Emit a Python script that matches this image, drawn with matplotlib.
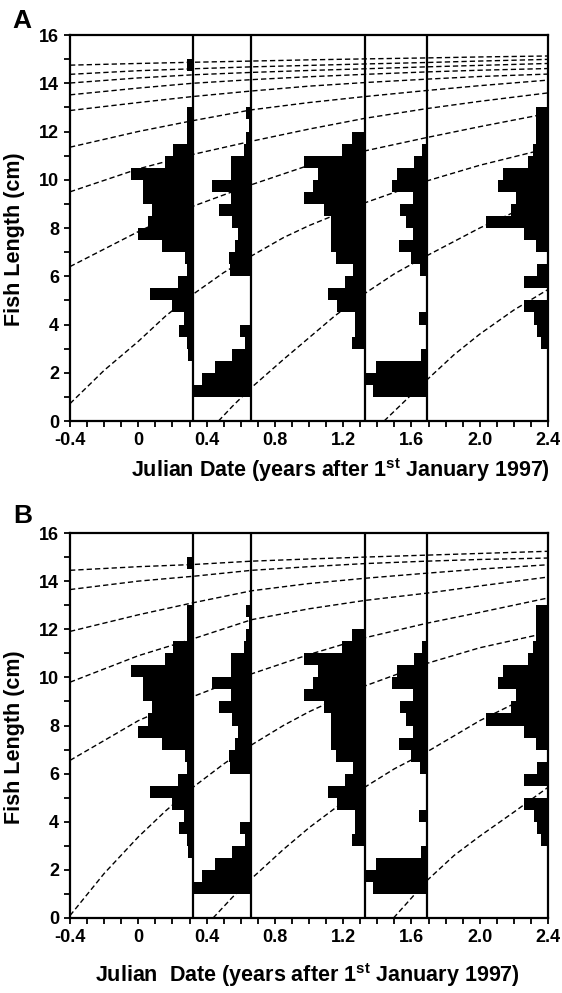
import matplotlib.pyplot as plt
import numpy as np
from matplotlib.ticker import MultipleLocator

plt.rcParams['font.family'] = ['Liberation Sans', 'DejaVu Sans']
plt.rcParams['font.weight'] = 'bold'
plt.rcParams['mathtext.fontset'] = 'custom'
plt.rcParams['mathtext.rm'] = 'Liberation Sans:bold'
plt.rcParams['mathtext.bf'] = 'Liberation Sans:bold'

# sampling dates (years after 1 Jan 1997); each histogram hangs left of its line
sample_dates = [0.318, 0.663, 1.328, 1.69, 2.4]

# lower edge of the 0.5 cm length classes
bin_low = [1.0, 1.5, 2.0, 2.5, 3.0, 3.5, 4.0, 4.5, 5.0, 5.5, 6.0, 6.5, 7.0, 7.5,
           8.0, 8.5, 9.0, 9.5, 10.0, 10.5, 11.0, 11.5, 12.0, 12.5, 13.0, 13.5, 14.0, 14.5]

# bar lengths (in date units) for each class
hist1 = [0, 0, 0, 0.027, 0.032, 0.078, 0.053, 0.12, 0.25, 0.084, 0.034, 0.044, 0.179, 0.322,
         0.26, 0.24, 0.289, 0.289, 0.361, 0.162, 0.117, 0.035, 0.035, 0.035, 0, 0, 0, 0.035]
hist2 = [0.345, 0.29, 0.215, 0.115, 0.04, 0.067, 0, 0, 0, 0, 0.127, 0.13, 0.098, 0.08,
         0.115, 0.19, 0.121, 0.23, 0.121, 0.121, 0.045, 0.03, 0.012, 0.03, 0, 0, 0, 0]
hist3 = [0, 0, 0, 0, 0.075, 0.06, 0.06, 0.165, 0.215, 0.115, 0.072, 0.17, 0.2, 0.2,
         0.2, 0.24, 0.357, 0.306, 0.273, 0.357, 0.137, 0.078, 0, 0, 0, 0, 0, 0]
hist4 = [0.315, 0.36, 0.30, 0.034, 0, 0, 0.048, 0, 0, 0, 0.04, 0.09, 0.165, 0.08,
         0.12, 0.156, 0.078, 0.205, 0.176, 0.074, 0.029, 0, 0, 0, 0, 0, 0, 0]
hist5 = [0, 0, 0, 0, 0.042, 0.063, 0.084, 0.14, 0, 0.143, 0.063, 0, 0.07, 0.14,
         0.361, 0.215, 0.186, 0.293, 0.264, 0.117, 0.088, 0.068, 0.068, 0.068, 0, 0, 0, 0]
hists = [hist1, hist2, hist3, hist4, hist5]

# growth curves: dates and lengths (cm)
t_grid = [-0.4, 0.0, 0.32, 0.665, 1.0, 1.33, 1.69, 2.0, 2.4]
t_fine = [-0.4, -0.2, 0.0, 0.16, 0.32, 0.5, 0.665, 0.85, 1.0, 1.33, 1.69, 2.0, 2.4]

curvesA = [
    ([1.44, 1.55, 1.69, 1.85, 2.0, 2.2, 2.4], [0, 0.75, 1.7, 2.75, 3.6, 4.6, 5.45]),
    ([0.47, 0.55, 0.665, 0.85, 1.0, 1.15, 1.33, 1.5, 1.69, 2.0, 2.4],
     [0, 0.6, 1.4, 2.55, 3.45, 4.35, 5.3, 6.1, 6.85, 8.0, 9.3]),
    (t_fine, [0.72, 2.1, 3.3, 4.35, 5.25, 6.15, 6.85, 7.6, 8.1, 9.05, 9.95, 10.6, 11.3]),
    (t_grid, [6.4, 7.85, 8.9, 9.8, 10.6, 11.2, 11.75, 12.2, 12.75]),
    (t_grid, [9.5, 10.45, 11.05, 11.6, 12.1, 12.55, 12.95, 13.25, 13.6]),
    (t_grid, [11.35, 12.0, 12.45, 12.9, 13.2, 13.45, 13.7, 13.9, 14.13]),
    (t_grid, [12.87, 13.2, 13.45, 13.68, 13.88, 14.03, 14.17, 14.28, 14.38]),
    (t_grid, [13.52, 13.8, 14.0, 14.15, 14.27, 14.37, 14.47, 14.54, 14.61]),
    (t_grid, [14.01, 14.22, 14.35, 14.45, 14.53, 14.6, 14.68, 14.74, 14.82]),
    (t_grid, [14.37, 14.52, 14.6, 14.68, 14.74, 14.8, 14.86, 14.92, 14.99]),
    (t_grid, [14.75, 14.82, 14.87, 14.92, 14.97, 15.01, 15.05, 15.09, 15.13]),
]

curvesB = [
    ([1.495, 1.59, 1.69, 1.85, 2.0, 2.2, 2.4], [0, 0.75, 1.55, 2.6, 3.4, 4.4, 5.43]),
    ([0.438, 0.55, 0.665, 0.85, 1.0, 1.15, 1.33, 1.5, 1.69, 2.0, 2.2, 2.4],
     [0, 0.85, 1.65, 2.85, 3.75, 4.55, 5.45, 6.2, 6.9, 8.2, 8.9, 9.5]),
    (t_fine, [0.1, 1.85, 3.37, 4.45, 5.43, 6.4, 7.2, 8.0, 8.57, 9.65, 10.58, 11.23, 11.86]),
    (t_grid, [6.55, 8.2, 9.2, 10.15, 10.95, 11.65, 12.25, 12.7, 13.3]),
    (t_grid, [9.8, 10.9, 11.6, 12.4, 12.85, 13.2, 13.5, 13.8, 14.17]),
    (t_grid, [11.91, 12.6, 13.1, 13.6, 13.9, 14.12, 14.33, 14.5, 14.68]),
    (t_grid, [13.65, 14.0, 14.2, 14.45, 14.6, 14.73, 14.83, 14.9, 14.96]),
    (t_grid, [14.45, 14.6, 14.69, 14.83, 14.92, 15.0, 15.08, 15.15, 15.24]),
]

xticks = [-0.4, 0, 0.4, 0.8, 1.2, 1.6, 2.0, 2.4]
xticklabels = ['-0.4', '0', '0.4', '0.8', '1.2', '1.6', '2.0', '2.4']
yticks = [0, 2, 4, 6, 8, 10, 12, 14, 16]

W, H = 562, 993
fig = plt.figure(figsize=(W / 100, H / 100), dpi=100)


def panel(top_px, bottom_px, curves):
    ax = fig.add_axes([70 / W, 1 - bottom_px / H, 478 / W, (bottom_px - top_px) / H])
    for d, w in zip(sample_dates, hists):
        ax.barh(bin_low, [-v for v in w], left=d, height=0.5, align='edge',
                color='black', linewidth=0, zorder=2)
    for d in sample_dates[:-1]:
        ax.axvline(d, color='black', lw=1.6, zorder=3)
    for t, L in curves:
        ax.plot(t, L, color='black', lw=1.0, ls=(0, (3.8, 2.2)), zorder=1)
    ax.set_xlim(-0.4, 2.4)
    ax.set_ylim(0, 16)
    ax.set_xticks(xticks)
    ax.set_xticklabels(xticklabels)
    ax.set_yticks(yticks)
    ax.xaxis.set_minor_locator(MultipleLocator(0.1))
    ax.yaxis.set_minor_locator(MultipleLocator(1))
    ax.tick_params(which='both', direction='out', length=4, width=1.3, labelsize=13, pad=4)
    for s in ax.spines.values():
        s.set_linewidth(1.6)
    ax.set_ylabel('Fish Length (cm)', fontsize=15.5, fontweight='bold')
    ax.yaxis.set_label_coords(-45 / 478, 0.47)
    return ax


axA = panel(35, 421, curvesA)
axB = panel(533, 918, curvesB)

fig.text(340 / W, 1 - 470 / H, r'Julian Date (years after 1$^{\mathbf{st}}$ January 1997)',
         ha='center', va='center', fontsize=15.5, fontweight='bold')
fig.text(307 / W, 1 - 975 / H, r'Julian  Date (years after 1$^{\mathbf{st}}$ January 1997)',
         ha='center', va='center', fontsize=15.5, fontweight='bold')
fig.text(12 / W, 1 - 28 / H, 'A', fontsize=19, fontweight='bold', va='baseline')
fig.text(13 / W, 1 - 523 / H, 'B', fontsize=19, fontweight='bold', va='baseline')

fig.savefig('out.png', dpi=100)
